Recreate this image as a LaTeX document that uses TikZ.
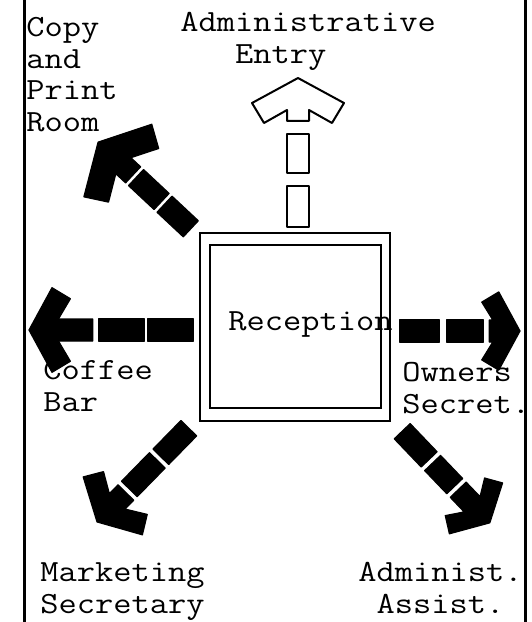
\documentclass[tikz,border=0pt]{standalone}
\usepackage{fontspec}
\setmonofont[FakeStretch=1.15]{Latin Modern Mono}
\usepackage{tikz}
\usetikzlibrary{calc,positioning}

\def\flowhs{1}
\tikzset{headsize/.code={\def\flowhs{#1}}}

% fat dashed arrow from #2 to #3, dashes #4, last dash starts at #5
\newcommand\flowarrow[5][flow]{%
  \path let \p1=($(#3)-(#2)$) in
    \pgfextra{\pgfmathparse{atan2(\y1,\x1)}\xdef\flowang{\pgfmathresult}%
      \pgfmathparse{veclen(\x1,\y1)*2}\xdef\flowlen{\pgfmathresult}};
  \begin{scope}[shift={(#2)},rotate=\flowang,x=0.5pt,y=0.5pt]
    \foreach \a/\b in {#4} \path[#1] (\a,-11) rectangle (\b,11);
    \path[#1] (#5,-11) -- (\flowlen-32*\flowhs,-11) -- (\flowlen-45*\flowhs,-34*\flowhs)
      -- (\flowlen-25*\flowhs,-46*\flowhs) -- (\flowlen,0) -- (\flowlen-25*\flowhs,46*\flowhs)
      -- (\flowlen-45*\flowhs,34*\flowhs) -- (\flowlen-32*\flowhs,11) -- (#5,11) -- cycle;
  \end{scope}}

\begin{document}
\begin{tikzpicture}[
    x=0.5pt,y=-0.5pt,
    wall/.style={line width=1.5pt},
    hall/.style={draw,line width=1.2pt,inner sep=0pt},
    lbl/.style={font=\ttfamily\fontsize{15.4pt}{15.7pt}\selectfont,inner sep=0pt,align=left,anchor=base west},
    flow/.style={fill=black,draw=black,line width=0.6pt,line join=round},
    flowopen/.style={fill=white,draw=black,line width=1pt,line join=round}
  ]
    \useasboundingbox (0,0) rectangle (531,622);
    \draw[wall] (24,0) -- (24,622);
    \draw[wall] (525,0) -- (525,622);

    \node[hall,minimum width=95pt,minimum height=94pt] (recep) at (295,327) {};
    \node[hall,minimum width=85.5pt,minimum height=81.5pt] (recepin) at (295.5,326.5) {};
    \node[lbl] (reclbl) at (228,330) {Reception};

    % labels, placed at the baseline of their last line
    \node[lbl] (copy) at (26,131) {Copy\\and\\Print\\Room};
    \node[lbl] (entry) at (180,63) {Administrative\\\phantom{Adm}Entry};
    \node[lbl] (coffee) at (43,411) {Coffee\\Bar};
    \node[lbl] (owners) at (402,413) {Owners\\Secret.};
    \node[lbl] (mkt) at (40,613) {Marketing\\Secretary};
    \node[lbl] (assist) at (358,613) {Administ.\\\phantom{A}Assist.};

    % arrow ends
    \coordinate (sentry) at ($(recep.north)+(3,-5)$);
    \coordinate (tentry) at (298,78);
    \coordinate (scoffee) at ($(recep.west)+(-5,3)$);
    \coordinate (tcoffee) at (29,330);
    \coordinate (sowners) at ($(recep.east)+(8,4)$);
    \coordinate (towners) at (520,331);
    \coordinate (scopy) at ($(recep.north west)+(-8,-3)$);
    \coordinate (tcopy) at (98,142);
    \coordinate (smkt) at ($(recep.south west)+(-10,6)$);
    \coordinate (tmkt) at (97,522);
    \coordinate (sassist) at ($(recep.south east)+(11,9)$);
    \coordinate (tassist) at (490,523);

    \flowarrow[flowopen]{sentry}{tentry}{0/41,54/93}{106}
    \flowarrow[flow,headsize=0.92]{scoffee}{tcoffee}{0/46,49/95}{101}
    \flowarrow[flow,headsize=0.85]{sowners}{towners}{0/40,47/84}{90}
    \flowarrow[flow,headsize=1.08]{scopy}{tcopy}{0/36,40/75}{79}
    \flowarrow[flow,headsize=0.9]{smkt}{tmkt}{0/40,45/85}{90}
    \flowarrow[flow,headsize=0.8]{sassist}{tassist}{0/39,44/76}{81}
\end{tikzpicture}
\end{document}
